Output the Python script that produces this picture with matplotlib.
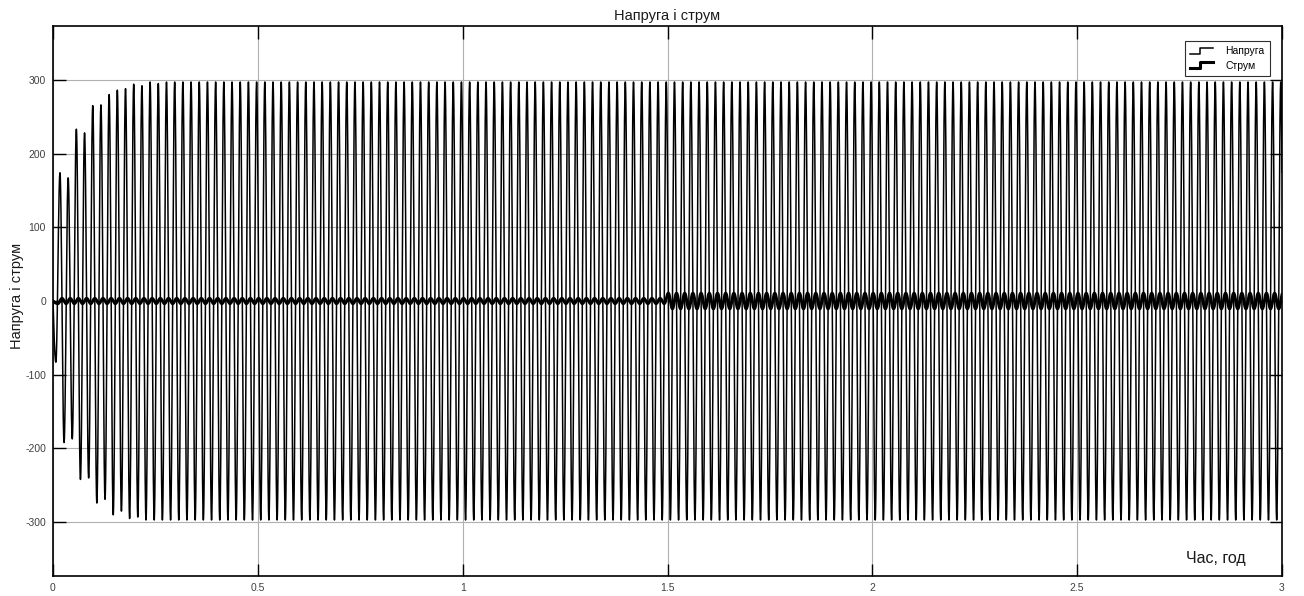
import numpy as np
import matplotlib
matplotlib.use('Agg')
import matplotlib.pyplot as plt
from matplotlib.legend_handler import HandlerBase
from matplotlib.lines import Line2D

plt.rcParams['font.family'] = ['Liberation Sans', 'DejaVu Sans']
plt.rcParams['axes.unicode_minus'] = False

# --- дані ---
f_hz = 50.0
t_end = 3.0
# перші піки напруги (від'ємний, додатний, ...), далі усталене значення
u_neg_peaks = [-83, -192, -187, -242, -240, -274, -269, -290, -285, -295, -293, -297]
u_pos_peaks = [174, 167, 233, 228, 265, 266, 280, 286, 288, 294, 292, 297, 295]
u_steady = 297
u_first_peak_t = 0.007

# струм: амплітуда до і після перемикання
i_amp_before = 3.5
i_amp_after = 10.5
i_switch_t = 1.5
i_first_peak_t = 0.012

xticks = [0, 0.5, 1, 1.5, 2, 2.5, 3]
xtick_labels = ['0', '0.5', '1', '1.5', '2', '2.5', '3']
yticks = [-300, -200, -100, 0, 100, 200, 300]


def wave_from_peaks(t, peak_t, peak_v):
    # з'єднуємо сусідні піки півхвилями косинуса
    out = np.zeros_like(t)
    k = np.searchsorted(peak_t, t) - 1
    first = k < 0
    out[first] = peak_v[0] * np.sin(0.5 * np.pi * t[first] / peak_t[0])
    m = (~first) & (k < len(peak_t) - 1)
    a = peak_v[k[m]]
    b = peak_v[k[m] + 1]
    ph = (t[m] - peak_t[k[m]]) / (peak_t[k[m] + 1] - peak_t[k[m]])
    out[m] = (a + b) / 2 + (a - b) / 2 * np.cos(np.pi * ph)
    out[k >= len(peak_t) - 1] = peak_v[-1]
    return out


half = 0.5 / f_hz
n_half = int(t_end / half) + 2

# піки напруги
u_peak_t = u_first_peak_t + half * np.arange(n_half)
u_peak_v = np.empty(n_half)
neg = list(u_neg_peaks) + [-u_steady] * n_half
pos = list(u_pos_peaks) + [u_steady] * n_half
u_peak_v[0::2] = neg[:len(u_peak_v[0::2])]
u_peak_v[1::2] = pos[:len(u_peak_v[1::2])]

# піки струму
i_peak_t = i_first_peak_t + half * np.arange(n_half)
i_amp = np.where(i_peak_t < i_switch_t, i_amp_before, i_amp_after)
sign = np.where(np.arange(n_half) % 2 == 0, -1, 1)
i_peak_v = i_amp * sign

t = np.linspace(0, t_end, 60001)
u = wave_from_peaks(t, u_peak_t, u_peak_v)
i = wave_from_peaks(t, i_peak_t, i_peak_v)


class StepHandler(HandlerBase):
    def create_artists(self, legend, orig_handle, xdescent, ydescent,
                       width, height, fontsize, trans):
        x0 = -xdescent
        y0 = -ydescent
        xs = [x0, x0 + width * 0.45, x0 + width * 0.45, x0 + width]
        ys = [y0 + height * 0.1, y0 + height * 0.1, y0 + height * 0.9, y0 + height * 0.9]
        ln = Line2D(xs, ys, color=orig_handle.get_color(),
                    lw=orig_handle.get_linewidth())
        ln.set_transform(trans)
        return [ln]


fig = plt.figure(figsize=(13.04, 5.96), dpi=100)
ax = fig.add_axes([53 / 1304, 1 - 576 / 596, (1282 - 53) / 1304, (576 - 26) / 596])

l1, = ax.plot(t, u, color='black', lw=1.1, label='Напруга')
l2, = ax.plot(t, i, color='black', lw=2.2, label='Струм')

ax.set_xlim(0, t_end)
ax.set_ylim(-373, 373)
ax.set_xticks(xticks)
ax.set_xticklabels(xtick_labels)
ax.set_yticks(yticks)
ax.grid(True, color='#b0b0b0', lw=0.8)
ax.tick_params(direction='in', length=9, width=1, colors='black',
               labelcolor='#404040', labelsize=7.5,
               top=True, right=True, pad=5)
for s in ax.spines.values():
    s.set_linewidth(1.2)

ax.set_title('Напруга і струм', fontsize=10.5, color='#1a1a1a', pad=4)
ax.set_ylabel('Напруга і струм', fontsize=10.5, color='#1a1a1a')
ax.yaxis.set_label_coords(-0.0235, 0.51)
ax.text(0.970, 0.018, 'Час, год', transform=ax.transAxes, fontsize=11.5,
        color='#1a1a1a', ha='right', va='bottom')

leg = ax.legend(handles=[l1, l2], loc='upper right', fontsize=7.5,
                handler_map={Line2D: StepHandler()},
                fancybox=False, framealpha=1, edgecolor='#303030',
                bbox_to_anchor=(0.9925, 0.978), handlelength=2.2,
                borderpad=0.5, labelspacing=0.4, handletextpad=1.2,
                borderaxespad=0.3)
leg.get_frame().set_linewidth(0.8)

fig.savefig('out.png', dpi=100)
